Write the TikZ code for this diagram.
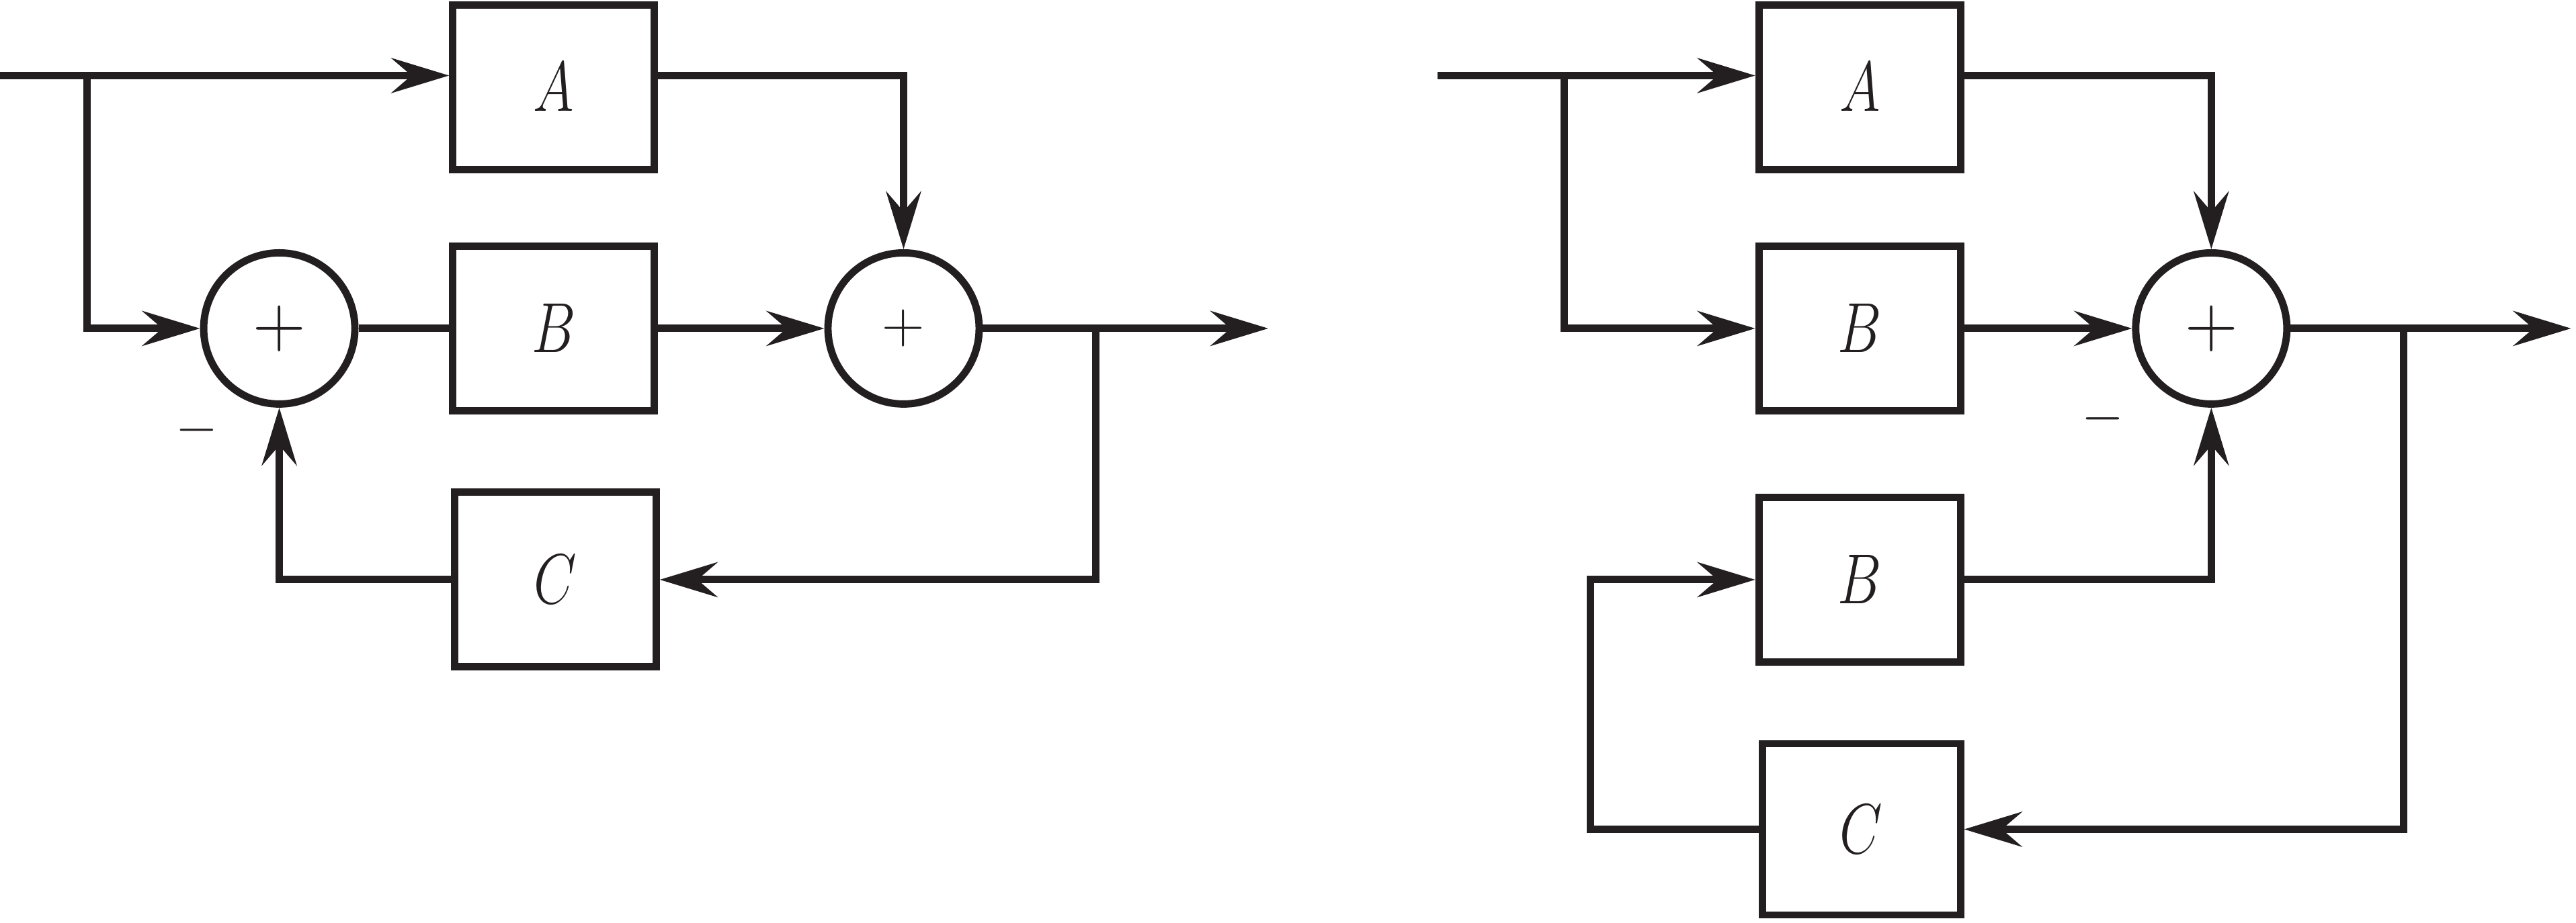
\RequirePackage{fix-cm}
\documentclass[tikz,border=0pt]{standalone}
\usetikzlibrary{arrows.meta}
\definecolor{ink}{HTML}{231F20}
\newcommand{\lbl}[1]{\scalebox{0.78}[1]{$#1$}}
\begin{document}
\begin{tikzpicture}[x=0.024445cm, y=-0.024445cm, line width=3.1pt, draw=ink, text=ink,
  block/.style={draw, minimum width=3.0cm, minimum height=2.45cm, inner sep=0pt, font=\fontsize{30}{34}\selectfont},
  sum/.style={draw, circle, minimum size=2.25cm, inner sep=0pt, font=\fontsize{31}{36}\selectfont},
  sign/.style={font=\fontsize{23}{28}\selectfont},
  >={Stealth[length=0.86cm, width=0.52cm, inset=0.3cm]}]
\useasboundingbox (0,0) rectangle (1568,562);

% left diagram
\node (A1) [block] at (337,53) {\lbl{A}};
\node (B1) [block] at (337,200) {\lbl{B}};
\node (C1) [block, minimum height=2.6cm] at (338,353) {\lbl{C}};
\node (S1) [sum] at (170,200) {$+$};
\node (S2) [sum, font=\fontsize{25}{30}\selectfont] at (550,200) {$+$};
\node (m1) [sign] at (120,262) {$-$};
\coordinate (in1) at (0,46);
\coordinate (j1) at (53,46);
\coordinate (j2) at (667,200);
\coordinate (out1) at (772,200);

\draw[->] (in1) -- (A1.west |- in1);
\draw[->] (j1) |- (S1.west);
\draw (S1) -- (B1);
\draw[->] (B1) -- (S2);
\draw[->] (A1.east |- in1) -| (S2.north);
\draw[->] (S2) -- (out1);
\draw[->] (j2) |- (C1.east);
\draw[->] (C1.west) -| (S1.south);

% right diagram
\node (A2) [block] at (1132,53) {\lbl{A}};
\node (B2) [block] at (1132,200) {\lbl{B}};
\node (B3) [block] at (1132,353) {\lbl{B}};
\node (C2) [block, minimum width=2.95cm, minimum height=2.55cm] at (1133,505) {\lbl{C}};
\node (S3) [sum] at (1346,200) {$+$};
\node (m2) [sign] at (1280,255) {$-$};
\coordinate (in2) at (875,46);
\coordinate (j3) at (952,46);
\coordinate (j4) at (1463,200);
\coordinate (k1) at (968,353);
\coordinate (out2) at (1565,200);

\draw[->] (in2) -- (A2.west |- in2);
\draw[->] (j3) |- (B2.west);
\draw[->] (A2.east |- in2) -| (S3.north);
\draw[->] (B2) -- (S3);
\draw[->] (S3) -- (out2);
\draw[->] (j4) |- (C2.east);
\draw[->] (C2.west) -| (k1) -- (B3.west);
\draw[->] (B3.east) -| (S3.south);
\end{tikzpicture}
\end{document}
